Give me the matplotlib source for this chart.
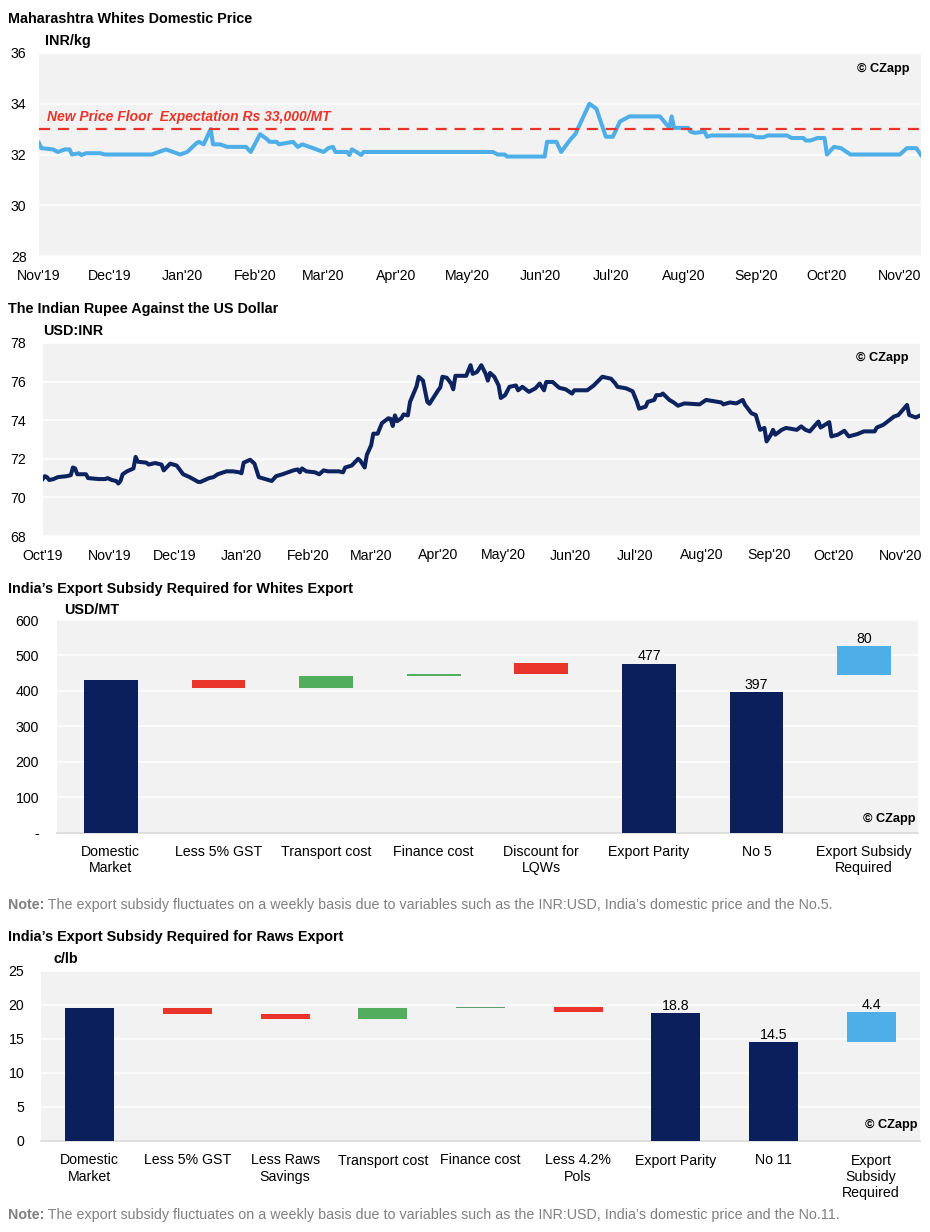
import matplotlib
matplotlib.use('Agg')
import matplotlib.pyplot as plt
import matplotlib.dates as mdates
import pandas as pd

plt.rcParams['font.family'] = ['Liberation Sans', 'DejaVu Sans']

# ---------------- data ----------------
price_start = '2019-11-01'
price_days = [0, 1, 6, 8, 11, 13, 14, 17, 18, 20, 26, 28, 48, 54, 60, 63, 67, 68, 70, 73,
              74, 77, 80, 88, 90, 94, 97, 98, 101, 102, 108, 110, 112, 121, 123, 125, 126,
              131, 132, 133, 135, 137, 138, 193, 195, 198, 199, 215, 216, 220, 222, 226,
              227, 228, 234, 237, 241, 244, 247, 251, 264, 268, 269, 270, 276, 277, 279,
              283, 284, 286, 303, 305, 308, 310, 318, 320, 325, 326, 328, 331, 334, 335,
              338, 341, 345, 366, 369, 373, 375]
price_vals = [32.45, 32.25, 32.2, 32.1, 32.2, 32.2, 32.0, 32.05, 31.98, 32.05, 32.05, 32.0,
              32.0, 32.2, 32.0, 32.1, 32.45, 32.5, 32.4, 33.0, 32.4, 32.4, 32.3, 32.3, 32.1,
              32.8, 32.6, 32.5, 32.5, 32.4, 32.5, 32.3, 32.4, 32.1, 32.25, 32.3, 32.1, 32.1,
              31.98, 32.2, 32.1, 31.98, 32.1, 32.1, 32.0, 32.0, 31.92, 31.92, 32.5, 32.5,
              32.1, 32.6, 32.7, 32.8, 34.0, 33.8, 32.7, 32.7, 33.3, 33.5, 33.5, 33.05, 33.5,
              33.05, 33.05, 32.9, 32.85, 32.9, 32.7, 32.75, 32.75, 32.68, 32.68, 32.75,
              32.75, 32.65, 32.65, 32.55, 32.55, 32.65, 32.65, 32.0, 32.3, 32.25, 32.0,
              32.0, 32.25, 32.25, 31.98]
price_floor = 33.0
price_end_day = 375

fx_start = '2019-10-01'
fx_days = [0, 1, 2, 3, 5, 7, 11, 13, 14, 15, 16, 20, 21, 26, 29, 30, 32, 34, 35, 36, 37,
           39, 41, 42, 43, 44, 48, 49, 52, 55, 56, 59, 62, 65, 68, 72, 73, 77, 79, 81, 85,
           88, 91, 92, 93, 96, 98, 100, 103, 106, 108, 111, 116, 118, 119, 120, 122, 126,
           128, 130, 132, 137, 139, 140, 143, 146, 147, 149, 150, 152, 153, 155, 157, 160,
           161, 162, 163, 164, 166, 167, 169, 170, 173, 174, 176, 178, 179, 181, 183, 184,
           185, 187, 189, 190, 191, 196, 198, 199, 201, 203, 205, 206, 207, 209, 211, 212,
           214, 216, 219, 220, 222, 225, 228, 230, 232, 233, 236, 239, 242, 245, 246, 252,
           255, 259, 263, 265, 266, 270, 273, 275, 276, 279, 280, 283, 284, 286, 287, 290,
           292, 294, 297, 304, 307, 314, 315, 318, 321, 324, 325, 328, 330, 332, 334, 335,
           337, 338, 339, 342, 344, 349, 351, 353, 355, 357, 359, 360, 364, 365, 368, 371,
           373, 377, 380, 385, 386, 389, 391, 394, 396, 398, 400, 401, 404, 406]
fx_vals = [70.95, 71.1, 71.05, 70.9, 70.95, 71.05, 71.1, 71.15, 71.55, 71.5, 71.2, 71.2,
           71.0, 70.95, 70.95, 71.0, 70.9, 70.85, 70.72, 70.85, 71.2, 71.35, 71.45, 71.5,
           72.1, 71.85, 71.8, 71.7, 71.78, 71.7, 71.4, 71.75, 71.65, 71.2, 71.05, 70.8,
           70.8, 71.0, 71.05, 71.2, 71.35, 71.35, 71.3, 71.25, 71.8, 71.95, 71.75, 71.05,
           70.95, 70.85, 71.1, 71.2, 71.4, 71.45, 71.3, 71.5, 71.35, 71.3, 71.2, 71.4,
           71.35, 71.35, 71.3, 71.55, 71.65, 72.0, 71.9, 71.55, 72.2, 72.7, 73.3, 73.3,
           73.85, 74.1, 74.07, 73.7, 74.25, 73.95, 74.1, 74.3, 74.25, 74.95, 75.75, 76.25,
           76.05, 74.95, 74.85, 75.2, 75.55, 75.7, 76.25, 76.2, 75.9, 75.6, 76.3, 76.3,
           76.85, 76.4, 76.5, 76.85, 76.4, 76.05, 76.45, 76.25, 75.8, 75.15, 75.3, 75.73,
           75.8, 75.55, 75.73, 75.47, 75.65, 75.9, 75.55, 75.98, 75.98, 75.68, 75.6, 75.38,
           75.55, 75.55, 75.8, 76.25, 76.15, 75.9, 75.73, 75.65, 75.5, 74.95, 74.6, 74.7,
           74.95, 75.05, 75.3, 75.3, 75.38, 75.05, 74.92, 74.75, 74.87, 74.82, 75.05, 74.92,
           74.82, 74.92, 74.87, 75.05, 74.8, 74.36, 74.27, 73.5, 73.6, 72.9, 73.25, 73.5,
           73.25, 73.5, 73.6, 73.5, 73.68, 73.5, 73.42, 73.68, 73.93, 73.62, 73.9, 73.16,
           73.25, 73.45, 73.16, 73.28, 73.42, 73.42, 73.62, 73.76, 73.93, 74.19, 74.27,
           74.53, 74.79, 74.27, 74.14, 74.24]
fx_end_day = 406

whites_cats = ['Domestic\nMarket', 'Less 5% GST', 'Transport cost', 'Finance cost',
               'Discount for\nLQWs', 'Export Parity', 'No 5', 'Export Subsidy\nRequired']
whites_base = [0, 409, 409, 442, 447, 0, 0, 446]
whites_height = [430, 21, 33, 5, 31, 477, 397, 80]
whites_kind = ['total', 'down', 'up', 'up', 'down', 'total', 'total', 'subsidy']
whites_labels = ['', '', '', '', '', '477', '397', '80']

raws_cats = ['Domestic\nMarket', 'Less 5% GST', 'Less Raws\nSavings', 'Transport cost',
             'Finance cost', 'Less 4.2%\nPols', 'Export Parity', 'No 11',
             'Export\nSubsidy\nRequired']
raws_base = [0, 18.6, 17.9, 17.9, 19.55, 18.9, 0, 0, 14.5]
raws_height = [19.5, 0.9, 0.7, 1.6, 0.08, 0.75, 18.8, 14.5, 4.4]
raws_kind = ['total', 'down', 'down', 'up', 'thin', 'down', 'total', 'total', 'subsidy']
raws_labels = ['', '', '', '', '', '', '18.8', '14.5', '4.4']

# ---------------- style ----------------
W, H = 930, 1232
BG = '#f2f2f2'
NAVY = '#0a1f5c'
RED = '#e8342a'
GREEN = '#52ad5c'
LBLUE = '#4daee8'
kind_color = {'total': NAVY, 'down': RED, 'up': GREEN, 'subsidy': LBLUE, 'thin': '#5f9f6a'}
TFS = 10.4

fig = plt.figure(figsize=(W / 100, H / 100), dpi=100)


def ax_px(l, t, r, b):
    return fig.add_axes([l / W, 1 - b / H, (r - l) / W, (b - t) / H])


def base_style(ax, ypad):
    ax.set_facecolor(BG)
    for s in ax.spines.values():
        s.set_visible(False)
    ax.grid(axis='y', color='white', lw=1.2)
    ax.grid(axis='x', visible=False)
    ax.set_axisbelow(True)
    ax.tick_params(axis='both', length=0, labelsize=10.2, colors='black')
    ax.tick_params(axis='y', pad=ypad)


def fig_text(x, y, s, **kw):
    return fig.text(x / W, 1 - y / H, s, va='center', ha='left', **kw)


def copyright(ax, x, y):
    ax.text(x, y, '\u00a9 CZapp', transform=ax.transAxes, ha='right', va='center',
            fontsize=9.2, fontweight='bold', color='black')


# ---------------- chart 1 ----------------
ax1 = ax_px(39, 53, 921, 256)
base_style(ax1, 9)
d1 = pd.Timestamp(price_start) + pd.to_timedelta(price_days, unit='D')
ax1.plot(d1, price_vals, color=LBLUE, lw=2.9, solid_joinstyle='round')
ax1.axhline(price_floor, color=RED, lw=1.6, ls=(0, (5, 3.5)))
ax1.set_xlim(pd.Timestamp(price_start), pd.Timestamp(price_start) + pd.Timedelta(days=price_end_day))
ax1.set_ylim(28, 36)
ax1.set_yticks([28, 30, 32, 34, 36])
ax1.xaxis.set_major_locator(mdates.MonthLocator())
ax1.xaxis.set_major_formatter(mdates.DateFormatter("%b'%y"))
ax1.tick_params(axis='x', pad=9)
ax1.text(0.009, 0.685, 'New Price Floor  Expectation Rs 33,000/MT', transform=ax1.transAxes,
         color=RED, fontsize=10, fontweight='bold', fontstyle='italic', va='center', ha='left')
copyright(ax1, 0.987, 0.921)
fig_text(8, 19, 'Maharashtra Whites Domestic Price', fontsize=TFS, fontweight='bold')
fig_text(45, 41, 'INR/kg', fontsize=TFS, fontweight='bold')

# ---------------- chart 2 ----------------
ax2 = ax_px(42.7, 343, 920, 536)
base_style(ax2, 12)
d2 = pd.Timestamp(fx_start) + pd.to_timedelta(fx_days, unit='D')
ax2.plot(d2, fx_vals, color='#0c235f', lw=2.9, solid_joinstyle='round')
ax2.set_xlim(pd.Timestamp(fx_start), pd.Timestamp(fx_start) + pd.Timedelta(days=fx_end_day))
ax2.set_ylim(68, 78)
ax2.set_yticks([68, 70, 72, 74, 76, 78])
ax2.xaxis.set_major_locator(mdates.MonthLocator())
ax2.xaxis.set_major_formatter(mdates.DateFormatter("%b'%y"))
ax2.tick_params(axis='x', pad=9)
copyright(ax2, 0.987, 0.921)
fig_text(8, 309, 'The Indian Rupee Against the US Dollar', fontsize=TFS, fontweight='bold')
fig_text(43, 331, 'USD:INR', fontsize=TFS, fontweight='bold')


# ---------------- waterfall charts ----------------
def waterfall(ax, cats, base, height, kind, labels, ylim, yticks, yticklabels):
    base_style(ax, 0)
    x = list(range(len(cats)))
    cols = [kind_color[k] for k in kind]
    bars = ax.bar(x, height, bottom=base, width=0.5, color=cols, zorder=3)
    for b, lab in zip(bars, labels):
        if lab:
            ax.annotate(lab, (b.get_x() + b.get_width() / 2, b.get_y() + b.get_height()),
                        xytext=(0, 0.3), textcoords='offset points', ha='center',
                        va='bottom', fontsize=10.2)
    ax.set_xlim(-0.5, len(cats) - 0.5)
    ax.set_ylim(*ylim)
    ax.set_yticks(yticks)
    ax.set_yticklabels(yticklabels)
    ax.set_xticks(x)
    ax.set_xticklabels(cats, va='top', ha='center', linespacing=1.2)
    ax.spines['bottom'].set_visible(True)
    ax.spines['bottom'].set_color('#d9d9d9')
    ax.spines['bottom'].set_linewidth(1.2)
    ax.tick_params(axis='x', pad=9)


ax3 = ax_px(57, 620, 918, 832.7)
waterfall(ax3, whites_cats, whites_base, whites_height, whites_kind, whites_labels,
          (0, 600), [0, 100, 200, 300, 400, 500, 600],
          ['-', '100', '200', '300', '400', '500', '600'])
ax3.tick_params(axis='y', pad=13)
copyright(ax3, 0.997, 0.064)
fig_text(8, 589, "India\u2019s Export Subsidy Required for Whites Export", fontsize=TFS,
         fontweight='bold')
fig_text(64, 610, 'USD/MT', fontsize=TFS, fontweight='bold')

ax4 = ax_px(41, 970.7, 920, 1141)
waterfall(ax4, raws_cats, raws_base, raws_height, raws_kind, raws_labels,
          (0, 25), [0, 5, 10, 15, 20, 25], ['0', '5', '10', '15', '20', '25'])
ax4.tick_params(axis='y', pad=12)
copyright(ax4, 0.997, 0.094)
fig_text(8, 937, "India\u2019s Export Subsidy Required for Raws Export", fontsize=TFS,
         fontweight='bold')
fig_text(53, 959, 'c/lb', fontsize=TFS, fontweight='bold')

# ---------------- notes ----------------
ax_n = fig.add_axes([0, 0, 1, 1], frameon=False)
ax_n.set_axis_off()


def note(y, rest):
    t = fig.text(8 / W, 1 - y / H, 'Note:', fontsize=10.3, fontweight='bold', color='#808080',
                 va='center', ha='left')
    ax_n.annotate(' ' + rest, xy=(1, 0), xycoords=t, va='bottom', ha='left', fontsize=10.3,
                  color='#808080')


note(905, "The export subsidy fluctuates on a weekly basis due to variables such as the "
          "INR:USD, India\u2019s domestic price and the No.5.")
note(1215, "The export subsidy fluctuates on a weekly basis due to variables such as the "
           "INR:USD, India\u2019s domestic price and the No.11.")

fig.savefig('out.png', dpi=100)
